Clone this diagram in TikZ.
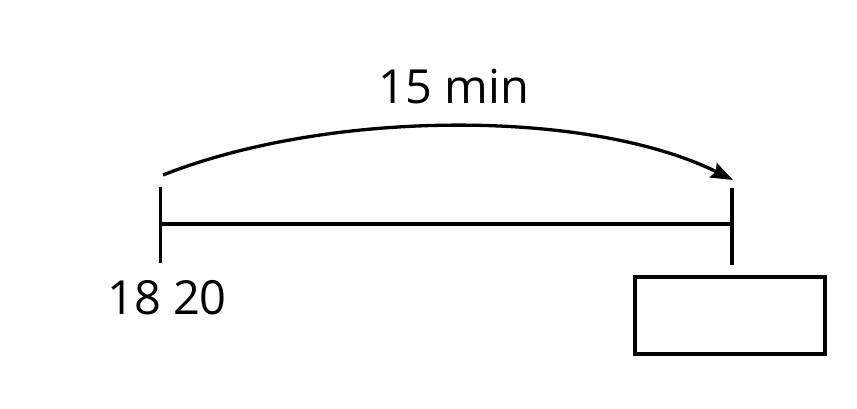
\documentclass[tikz,border=0pt]{standalone}
\usepackage{fontspec}
\setmainfont{Open Sans}
\usetikzlibrary{arrows.meta}
\begin{document}
\begin{tikzpicture}[x=1pt,y=-1pt,
  ln/.style={line width=3.3pt},
  lbl/.style={font=\fontsize{47}{50}\selectfont, inner sep=0pt}]
\useasboundingbox (0,0) rectangle (857,408);
\coordinate (lt) at (160.5,187);
\coordinate (lb) at (160.5,263);
\coordinate (rt) at (732,188);
\coordinate (rb) at (732,265);
\coordinate (lm) at (160.5,224);
\coordinate (rm) at (732,224);
\coordinate (as) at (163,175);
\coordinate (ae) at (733,180);
\draw[ln] (lt) -- (lb);
\draw[ln] (rt) -- (rb);
\draw[ln] (lm) -- (rm);
\draw[ln,-{Stealth[length=22pt,width=16pt,inset=3pt]}] (as) .. controls (330,109) and (590,109) .. (ae);
\node[lbl] (t15) at (454,86) {15 min};
\node[lbl] (t18) at (167,298) {18 20};
\node[draw,line width=3.3pt,minimum width=190pt,minimum height=77pt,inner sep=0pt] (box) at (730,315.5) {};
\end{tikzpicture}
\end{document}
